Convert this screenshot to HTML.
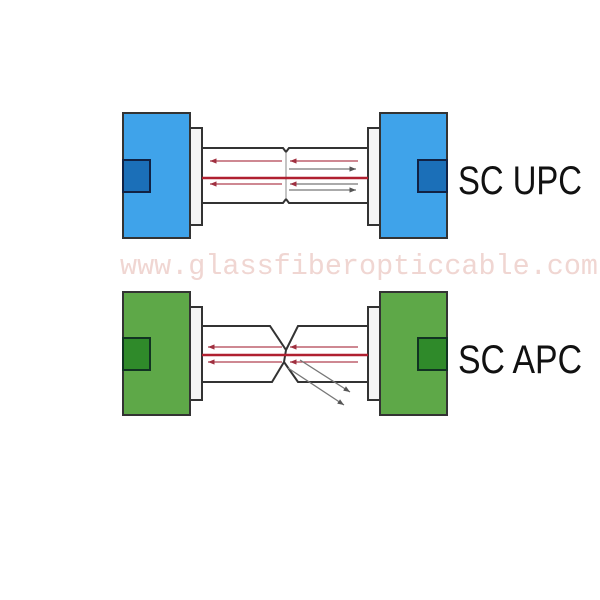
<!DOCTYPE html><html><head><style>body{margin:0;background:#fff}svg{display:block}</style></head><body>
<svg width="600" height="600" viewBox="0 0 600 600" xmlns="http://www.w3.org/2000/svg">
<defs>
<marker id="l" viewBox="0 0 10 10" refX="10" refY="5" markerWidth="5" markerHeight="5" orient="auto"><path d="M0,1 L10,5 L0,9z" fill="#a03040"/></marker>
<marker id="a" viewBox="0 0 10 10" refX="10" refY="5" markerWidth="5" markerHeight="5" orient="auto"><path d="M0,1 L10,5 L0,9z" fill="#555"/></marker>
</defs>
<text x="120" y="274" font-family="Liberation Mono, monospace" font-size="28.5" fill="#f0d6d2" textLength="478" lengthAdjust="spacingAndGlyphs">www.glassfiberopticcable.com</text>
<g stroke="#333" stroke-width="2">
<rect x="190" y="128" width="12" height="97" fill="#f4f4f4"/>
<rect x="368" y="128" width="12" height="97" fill="#f4f4f4"/>
<path d="M202,148 H283 L286,152 L289,148 H368 M202,203 H283 L286,199 L289,203 H368" fill="none"/>
<line x1="286" y1="152" x2="286" y2="199" stroke="#888" stroke-width="1"/>
<rect x="123" y="113" width="67" height="125" fill="#3fa3ea"/>
<rect x="380" y="113" width="67" height="125" fill="#3fa3ea"/>
<rect x="123" y="160" width="27" height="32" fill="#1b6fb8" stroke="#124"/>
<rect x="418" y="160" width="29" height="32" fill="#1b6fb8" stroke="#124"/>
<rect x="190" y="307" width="12" height="93" fill="#f4f4f4"/>
<rect x="368" y="307" width="12" height="93" fill="#f4f4f4"/>
<path d="M202,326 H270 L286,350 L284,362 L272,382 H202 M368,326 H298 L286,350 M284,362 L298,382 H368" fill="none"/>
<rect x="123" y="292" width="67" height="123" fill="#5ea848"/>
<rect x="380" y="292" width="67" height="123" fill="#5ea848"/>
<rect x="123" y="338" width="27" height="32" fill="#2f8a2a" stroke="#132"/>
<rect x="418" y="338" width="29" height="32" fill="#2f8a2a" stroke="#132"/>
</g>
<g fill="none">
<line x1="202" y1="178" x2="368" y2="178" stroke="#b02030" stroke-width="2.5"/>
<line x1="282" y1="161" x2="210" y2="161" stroke="#b04050" stroke-width="1.3" marker-end="url(#l)"/>
<line x1="358" y1="161" x2="290" y2="161" stroke="#b04050" stroke-width="1.3" marker-end="url(#l)"/>
<line x1="289" y1="169" x2="356" y2="169" stroke="#777" stroke-width="1.3" marker-end="url(#a)"/>
<line x1="282" y1="184" x2="210" y2="184" stroke="#b04050" stroke-width="1.3" marker-end="url(#l)"/>
<line x1="358" y1="184" x2="290" y2="184" stroke="#777" stroke-width="1.3" marker-end="url(#l)"/>
<line x1="289" y1="190" x2="356" y2="190" stroke="#777" stroke-width="1.3" marker-end="url(#a)"/>
<line x1="202" y1="355" x2="368" y2="355" stroke="#b02030" stroke-width="2.5"/>
<line x1="282" y1="347" x2="208" y2="347" stroke="#b04050" stroke-width="1.3" marker-end="url(#l)"/>
<line x1="358" y1="347" x2="290" y2="347" stroke="#b04050" stroke-width="1.3" marker-end="url(#l)"/>
<line x1="282" y1="362" x2="208" y2="362" stroke="#b04050" stroke-width="1.3" marker-end="url(#l)"/>
<line x1="358" y1="362" x2="290" y2="362" stroke="#b04050" stroke-width="1.3" marker-end="url(#l)"/>
<line x1="300" y1="360" x2="350" y2="392" stroke="#777" stroke-width="1.3" marker-end="url(#a)"/>
<line x1="288" y1="368" x2="344" y2="405" stroke="#777" stroke-width="1.3" marker-end="url(#a)"/>
</g>
<text x="458" y="194" font-family="Liberation Sans, sans-serif" font-size="40" fill="#111" textLength="124" lengthAdjust="spacingAndGlyphs">SC UPC</text>
<text x="458" y="373" font-family="Liberation Sans, sans-serif" font-size="40" fill="#111" textLength="124" lengthAdjust="spacingAndGlyphs">SC APC</text>
</svg>
</body></html>
